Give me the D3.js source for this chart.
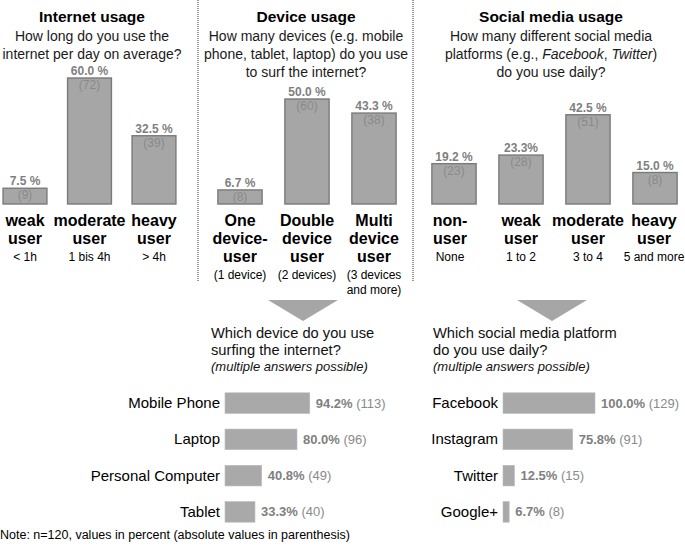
<!DOCTYPE html>
<html>
<head>
<meta charset="utf-8">
<script src="https://cdn.jsdelivr.net/npm/d3@7"></script>
<style>
  body { margin: 0; background: #fff; }
  text { font-family: "Liberation Sans", Arial, Helvetica, sans-serif; }
</style>
</head>
<body>
<div id="chart"></div>
<script>
// top row: three column charts
const internetCats = [["weak", "user"], ["moderate", "user"], ["heavy", "user"]];
const internetSub = [["< 1h"], ["1 bis 4h"], ["> 4h"]];
const internetPct = [7.5, 60.0, 32.5];
const internetPctText = ["7.5 %", "60.0 %", "32.5 %"];
const internetCount = [9, 72, 39];

const deviceCats = [["One", "device-", "user"], ["Double", "device", "user"], ["Multi", "device", "user"]];
const deviceSub = [["(1 device)"], ["(2 devices)"], ["(3 devices", "and more)"]];
const devicePct = [6.7, 50.0, 43.3];
const devicePctText = ["6.7 %", "50.0 %", "43.3 %"];
const deviceCount = [8, 60, 38];

const socialCats = [["non-", "user"], ["weak", "user"], ["moderate", "user"], ["heavy", "user"]];
const socialSub = [["None"], ["1 to 2"], ["3 to 4"], ["5 and more"]];
const socialPct = [19.2, 23.3, 42.5, 15.0];
const socialPctText = ["19.2 %", "23.3%", "42.5 %", "15.0 %"];
const socialCount = [23, 28, 51, 8];

// bottom row: two horizontal bar charts
const deviceTypes = ["Mobile Phone", "Laptop", "Personal Computer", "Tablet"];
const deviceTypePct = [94.2, 80.0, 40.8, 33.3];
const deviceTypeCount = [113, 96, 49, 40];

const platforms = ["Facebook", "Instagram", "Twitter", "Google+"];
const platformPct = [100.0, 75.8, 12.5, 6.7];
const platformCount = [129, 91, 15, 8];

const W = 685, H = 556;
const svg = d3.select("#chart").append("svg")
    .attr("width", W)
    .attr("height", H);

const barFill = "#a6a6a6";
const labelGrey = "#7f7f7f";

// shared vertical scale for the top panels
const y = d3.scaleLinear().domain([0, 60]).range([204, 78]);

function columnPanel(cfg) {
    const g = svg.append("g");
    const x = d3.scaleBand()
        .domain(d3.range(cfg.pct.length))
        .range(cfg.range)
        .paddingInner(cfg.pad)
        .paddingOuter(cfg.pad / 2);

    g.append("text")
        .attr("x", cfg.cx).attr("y", 22)
        .attr("text-anchor", "middle")
        .attr("font-size", 15.5).attr("font-weight", "bold")
        .text(cfg.title);

    const q = g.append("text")
        .attr("text-anchor", "middle")
        .attr("font-size", 14).attr("fill", "#1a1a1a");
    cfg.question.forEach((line, i) => {
        const t = q.append("tspan").attr("x", cfg.cx).attr("y", 41 + i * 18);
        line.forEach(part => {
            t.append("tspan")
                .attr("font-style", part.it ? "italic" : null)
                .text(part.t);
        });
    });

    const data = cfg.pct.map((v, i) => ({ i, v, n: cfg.count[i], lab: cfg.pctText[i] }));

    g.selectAll("rect.col").data(data).join("rect")
        .attr("class", "col")
        .attr("x", d => x(d.i))
        .attr("y", d => y(d.v))
        .attr("width", x.bandwidth())
        .attr("height", d => y(0) - y(d.v))
        .attr("fill", barFill)
        .attr("stroke", "#7a7a7a")
        .attr("stroke-width", 1.4);

    g.selectAll("text.pct").data(data).join("text")
        .attr("class", "pct")
        .attr("x", d => x(d.i) + x.bandwidth() / 2)
        .attr("y", d => y(d.v) - 3)
        .attr("text-anchor", "middle")
        .attr("font-size", 12).attr("font-weight", "bold")
        .attr("fill", labelGrey)
        .text(d => d.lab);

    g.selectAll("text.cnt").data(data).join("text")
        .attr("class", "cnt")
        .attr("x", d => x(d.i) + x.bandwidth() / 2)
        .attr("y", d => y(d.v) + 11)
        .attr("text-anchor", "middle")
        .attr("font-size", 12)
        .attr("fill", "#8a8a8a")
        .text(d => "(" + d.n + ")");

    data.forEach(d => {
        const cx = x(d.i) + x.bandwidth() / 2 + (cfg.shift ? cfg.shift[d.i] : 0);
        const lines = cfg.cats[d.i];
        lines.forEach((l, k) => {
            g.append("text")
                .attr("x", cx).attr("y", 226 + k * 18)
                .attr("text-anchor", "middle")
                .attr("font-size", 16).attr("font-weight", "bold")
                .text(l);
        });
        const base = 226 + (lines.length - 1) * 18 + 17;
        cfg.sub[d.i].forEach((l, k) => {
            g.append("text")
                .attr("x", cx).attr("y", base + k * 15)
                .attr("text-anchor", "middle")
                .attr("font-size", 12)
                .text(l);
        });
    });
}

columnPanel({
    title: "Internet usage", cx: 92,
    question: [[{ t: "How long do you use the" }], [{ t: "internet per day on average?" }]],
    cats: internetCats, sub: internetSub, pct: internetPct, pctText: internetPctText, count: internetCount,
    range: [-7.25, 186.25], pad: 0.32
});

columnPanel({
    title: "Device usage", cx: 306,
    question: [[{ t: "How many devices (e.g. mobile" }], [{ t: "phone, tablet, laptop) do you use" }], [{ t: "to surf the internet?" }]],
    cats: deviceCats, sub: deviceSub, pct: devicePct, pctText: devicePctText, count: deviceCount,
    range: [206.5, 407.5], pad: 0.34
});

columnPanel({
    title: "Social media usage", cx: 551,
    question: [[{ t: "How many different social media" }],
               [{ t: "platforms (e.g., " }, { t: "Facebook", it: true }, { t: ", " }, { t: "Twitter", it: true }, { t: ")" }],
               [{ t: "do you use daily?" }]],
    cats: socialCats, sub: socialSub, pct: socialPct, pctText: socialPctText, count: socialCount,
    range: [420.5, 688.5], pad: 0.34, shift: [-4, 0, 0, -1]
});

// dotted separators
[198, 413].forEach(xx => {
    svg.append("line")
        .attr("x1", xx).attr("x2", xx)
        .attr("y1", 0).attr("y2", 282)
        .attr("stroke", "#333")
        .attr("stroke-width", 1)
        .attr("stroke-dasharray", "1,1");
});

// arrows pointing down to the follow-up questions
[303, 552].forEach(cx => {
    svg.append("path")
        .attr("d", `M${cx - 35},300 L${cx + 35},300 L${cx},321 Z`)
        .attr("fill", barFill);
});

const yb = d3.scaleBand().domain(d3.range(4)).range([385, 530]).paddingInner(0.43).paddingOuter(0.215);

function barPanel(cfg) {
    const g = svg.append("g");
    const x = d3.scaleLinear().domain([0, 100]).range([cfg.x0, cfg.x0 + cfg.w]);

    const q = g.append("text").attr("font-size", 14.7).attr("fill", "#111");
    cfg.question.forEach((l, i) => {
        q.append("tspan").attr("x", cfg.qx).attr("y", 338 + i * 17).text(l);
    });
    g.append("text")
        .attr("x", cfg.qx).attr("y", 371)
        .attr("font-size", 13).attr("font-style", "italic").attr("fill", "#111")
        .text("(multiple answers possible)");

    const data = cfg.pct.map((v, i) => ({ i, v, n: cfg.count[i], name: cfg.names[i] }));

    g.selectAll("rect").data(data).join("rect")
        .attr("x", x(0))
        .attr("y", d => yb(d.i))
        .attr("width", d => x(d.v) - x(0))
        .attr("height", yb.bandwidth())
        .attr("fill", "#a9a9a9")
        .attr("stroke", "#bdbdbd")
        .attr("stroke-width", 0.6);

    g.selectAll("text.name").data(data).join("text")
        .attr("class", "name")
        .attr("x", x(0) - 5)
        .attr("y", d => yb(d.i) + yb.bandwidth() / 2 + 5)
        .attr("text-anchor", "end")
        .attr("font-size", 15)
        .text(d => d.name);

    const vl = g.selectAll("text.val").data(data).join("text")
        .attr("class", "val")
        .attr("x", d => x(d.v) + 6)
        .attr("y", d => yb(d.i) + yb.bandwidth() / 2 + 4.5)
        .attr("font-size", 13);
    vl.append("tspan").attr("font-weight", "bold").attr("fill", labelGrey)
        .text(d => d.v.toFixed(1) + "%");
    vl.append("tspan").attr("fill", "#8a8a8a")
        .text(d => " (" + d.n + ")");
}

barPanel({
    names: deviceTypes, pct: deviceTypePct, count: deviceTypeCount,
    x0: 225, w: 90, qx: 211,
    question: ["Which device do you use", "surfing the internet?"]
});

barPanel({
    names: platforms, pct: platformPct, count: platformCount,
    x0: 503, w: 92, qx: 433,
    question: ["Which social media platform", "do you use daily?"]
});

svg.append("text")
    .attr("x", 0).attr("y", 539)
    .attr("font-size", 12.5)
    .text("Note: n=120, values in percent (absolute values in parenthesis)");
</script>
</body>
</html>
